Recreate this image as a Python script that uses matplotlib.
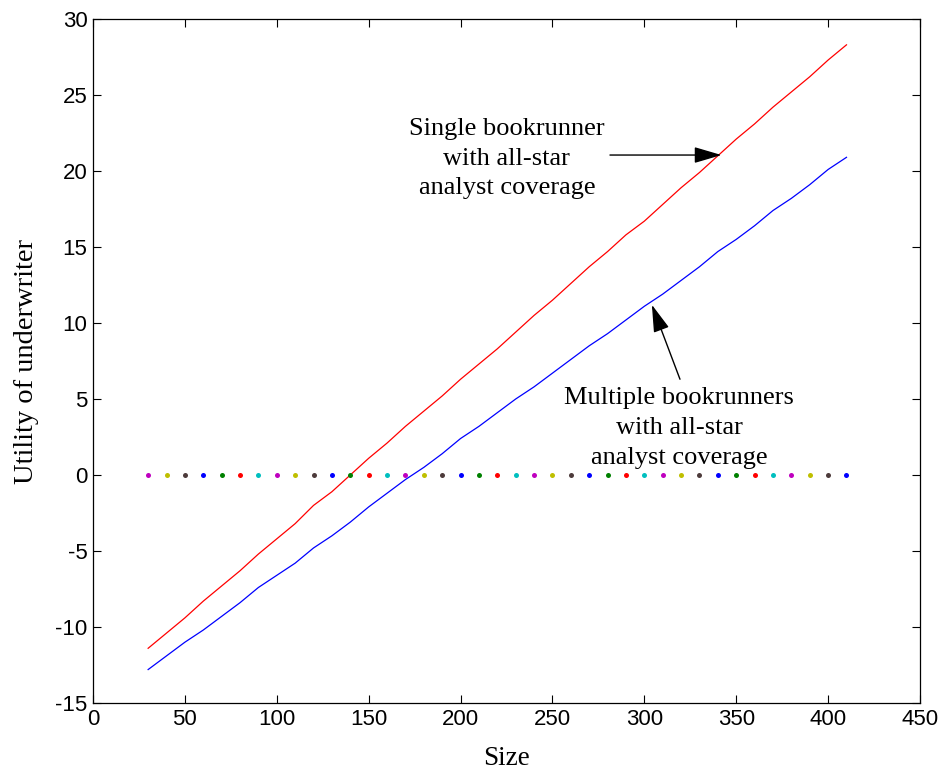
import matplotlib
matplotlib.use("Agg")
import matplotlib.pyplot as plt
import numpy as np

plt.rcParams["axes.unicode_minus"] = False

size = list(range(30, 411, 10))
single = [-11.4, -10.4, -9.4, -8.3, -7.3, -6.3, -5.2, -4.2, -3.2, -2.0,
          -1.1, 0.0, 1.1, 2.1, 3.2, 4.2, 5.2, 6.3, 7.3, 8.3,
          9.4, 10.5, 11.5, 12.6, 13.7, 14.7, 15.8, 16.7, 17.8, 18.9,
          19.9, 21.0, 22.1, 23.1, 24.2, 25.2, 26.2, 27.3, 28.3]
multiple = [-12.8, -11.9, -11.0, -10.2, -9.3, -8.4, -7.4, -6.6, -5.8, -4.8,
            -4.0, -3.1, -2.1, -1.2, -0.3, 0.5, 1.4, 2.4, 3.2, 4.1,
            5.0, 5.8, 6.7, 7.6, 8.5, 9.3, 10.2, 11.1, 11.9, 12.8,
            13.7, 14.7, 15.5, 16.4, 17.4, 18.2, 19.1, 20.1, 20.9]
zero_line = [0.0] * len(size)
dot_colors = [(0.75, 0, 0.75), (0.75, 0.75, 0), (0.3, 0.23, 0.23),
              (0, 0, 1), (0, 0.5, 0), (1, 0, 0), (0, 0.75, 0.75)]

xticks = list(range(0, 451, 50))
yticks = list(range(-15, 31, 5))

sans = "Liberation Sans"
serif = "Liberation Serif"

fig = plt.figure(figsize=(9.48, 7.74), dpi=100)
ax = fig.add_axes([93/948, 1-703/774, (920-93)/948, (703-19)/774])

ax.plot(size, single, color="red", lw=0.9)
ax.plot(size, multiple, color="blue", lw=0.9)
for i, (x, y) in enumerate(zip(size, zero_line)):
    ax.plot(x, y, "o", ms=3.6, color=dot_colors[i % 7], mec="none")

ax.set_xlim(0, 450)
ax.set_ylim(-15, 30)
ax.set_xticks(xticks)
ax.set_yticks(yticks)
ax.tick_params(direction="in", top=True, right=True, length=6, width=0.8,
               labelsize=16, pad=4)
for lab in ax.get_xticklabels() + ax.get_yticklabels():
    lab.set_fontfamily(sans)
for sp in ax.spines.values():
    sp.set_linewidth(0.9)

ax.set_xlabel("Size", fontfamily=serif, fontsize=19.5, labelpad=12)
ax.set_ylabel("Utility of underwriter", fontfamily=serif, fontsize=20.5, labelpad=12)

arrow = dict(arrowstyle="-|>,head_length=1.7,head_width=0.5",
             color="black", lw=1, shrinkA=0, shrinkB=0)

ax.text(225.2, 20.8, "Single bookrunner\nwith all-star\nanalyst coverage",
        fontfamily=serif, fontsize=19, ha="center", va="center", linespacing=1.45)
ax.annotate("", xy=(342, 21.05), xytext=(281.3, 21.05), arrowprops=arrow)

ax.annotate("", xy=(304.1, 11.2), xytext=(319.4, 6.3), arrowprops=arrow)
ax.text(319, 3.1, "Multiple bookrunners\nwith all-star\nanalyst coverage",
        fontfamily=serif, fontsize=19, ha="center", va="center", linespacing=1.45)

fig.savefig("out.png", dpi=100)
